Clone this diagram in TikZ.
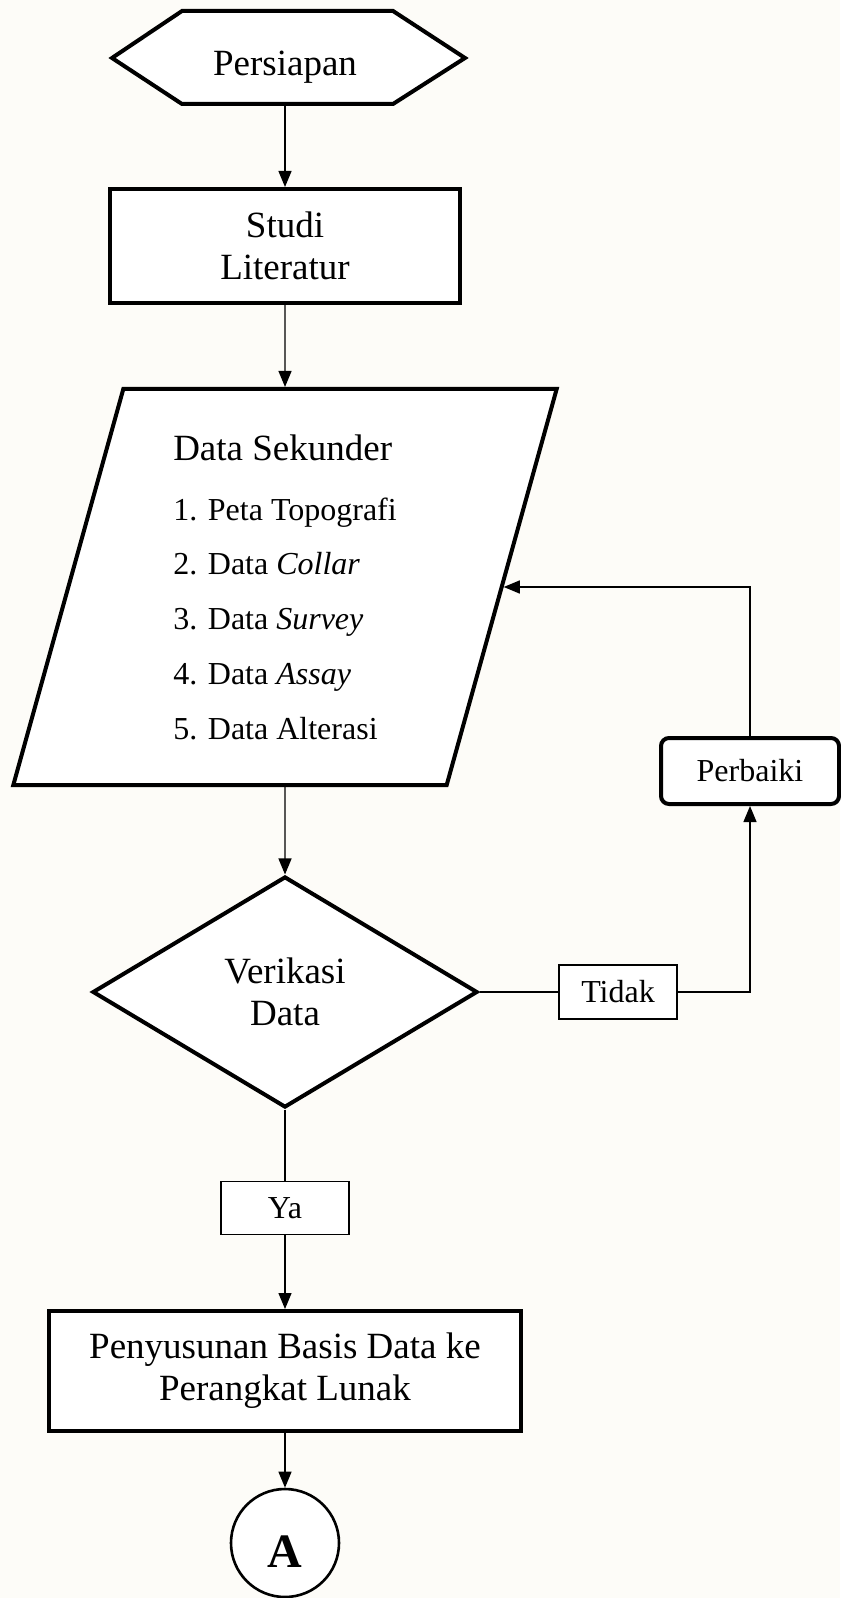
\documentclass[tikz,border=0pt]{standalone}
\usepackage{fontspec}
\setmainfont{Liberation Serif}
\usepackage{tikz}
\usetikzlibrary{shapes.geometric}
\usetikzlibrary{arrows.meta}
\definecolor{paper}{RGB}{253,252,248}
\begin{document}
\begin{tikzpicture}
		[x=0.5pt, y=-0.5pt, >={Triangle[length=8pt,width=6.5pt]}, line width=0.65pt,
		 main/.style = {draw, line width=2pt, fill=white, align=center, font=\fontsize{18.5}{21}\selectfont},
		 label/.style = {draw, line width=0.6pt, fill=white, font=\fontsize{16}{19}\selectfont}]
        \useasboundingbox (0,0) rectangle (840,1598);
        \fill[paper] (0,0) rectangle (840,1598);
        \filldraw[fill=white, line width=2pt] (112,58) -- (182,11) -- (393,11) -- (465,58) -- (393,104) -- (182,104) -- cycle;
        \node[font=\fontsize{18.5}{21}\selectfont, text height=22pt, text depth=4pt, minimum height=46.5pt] (1) at (285,58) {Persiapan};
        \node[main, minimum width=175pt, minimum height=57pt] (2) at (285,246) {Studi\\Literatur};
        \node[main, trapezium, trapezium left angle=75.8, trapezium right angle=104.2, trapezium stretches=true,
              minimum width=272pt, minimum height=198pt, align=left, font=\fontsize{16}{27.35}\selectfont] (3) at (285,587)
              {{\fontsize{18.5}{21}\selectfont Data Sekunder}\\[2.7pt]
               1. Peta Topografi\\
               2. Data \textit{Collar}\\
               3. Data \textit{Survey}\\
               4. Data \textit{Assay}\\
               5. Data Alterasi};
        \node[main, diamond, minimum width=192.5pt, minimum height=115.5pt] (4) at (285,992) {Verikasi\\Data};
        \node[label, minimum width=59pt, minimum height=27pt] (5) at (618,992) {Tidak};
        \node[label, line width=2pt, rounded corners=4pt, minimum width=89pt, minimum height=33pt] (6) at (750,771) {Perbaiki};
        \node[label, minimum width=64pt, minimum height=26.5pt] (7) at (285,1208) {Ya};
        \node[main, minimum width=236pt, minimum height=60pt] (8) at (285,1371) {Penyusunan Basis Data ke\\Perangkat Lunak};
        \node[draw, circle, line width=1.3pt, fill=white, minimum size=54pt, text height=24pt, text depth=0pt,
              font=\fontsize{24}{24}\selectfont\bfseries] (9) at (285,1543) {A};

        \draw[->] (1) -- (2);
        \draw[->] (2) -- (3);
        \draw[->] (3) -- (4);
        \draw (4) -- (5);
        \draw[->] (5) -| (6);
        \draw[->] (6) |- (3.right side);
        \draw (4) -- (7);
        \draw[->] (7) -- (8);
        \draw[->] (8) -- (9);
	\end{tikzpicture}
\end{document}
